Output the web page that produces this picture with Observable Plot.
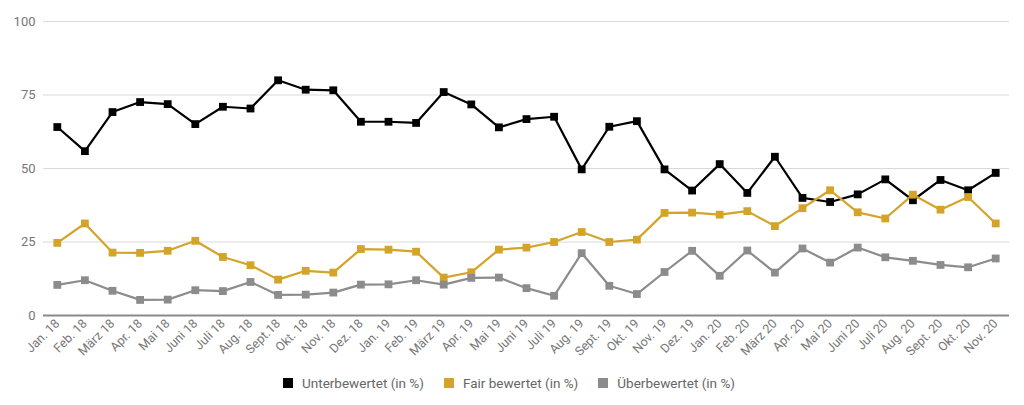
<!DOCTYPE html>
<html>
<head>
<meta charset="utf-8">
<script src="https://cdn.jsdelivr.net/npm/d3@7"></script>
<script src="https://cdn.jsdelivr.net/npm/@observablehq/plot@0.6"></script>
<style>
  html, body { margin: 0; padding: 0; background: #fff; }
  body { width: 1024px; height: 405px; overflow: hidden; font-family: Roboto, "Noto Sans", sans-serif; }
  #legend { display: flex; justify-content: flex-start; align-items: center; height: 28px; margin-top: 1px; padding-left: 283px; font-size: 13.5px; color: #666; }
  .item { display: flex; align-items: center; margin-right: 20px; }
  .sw { width: 10px; height: 10px; margin-right: 9px; }
</style>
</head>
<body>
<div id="chart"></div>
<div id="legend"></div>
<script>
const months = ["Jan. 18","Feb. 18","März 18","Apr. 18","Mai 18","Juni 18","Juli 18","Aug. 18","Sept.18","Okt. 18","Nov. 18","Dez. 18",
  "Jan. 19","Feb. 19","März 19","Apr. 19","Mai 19","Juni 19","Juli 19","Aug. 19","Sept. 19","Okt. 19","Nov. 19","Dez. 19",
  "Jan. 20","Feb. 20","März 20","Apr. 20","Mai 20","Juni 20","Juli 20","Aug. 20","Sept. 20","Okt. 20","Nov. 20"];
const unterbewertet = [64.1,55.9,69.2,72.6,71.9,65.1,71.0,70.4,80.0,76.8,76.6,65.9,
  65.9,65.5,76.0,71.8,64.0,66.8,67.6,49.7,64.2,66.1,49.7,42.5,
  51.5,41.7,54.0,40.0,38.6,41.2,46.3,39.2,46.1,42.6,48.5];
const fair = [24.7,31.3,21.4,21.3,22.0,25.4,19.9,17.1,12.2,15.2,14.6,22.6,
  22.4,21.7,12.9,14.7,22.4,23.1,25.0,28.4,25.0,25.8,34.9,35.0,
  34.3,35.5,30.4,36.5,42.6,35.1,33.0,41.1,36.0,40.3,31.3];
const ueberbewertet = [10.4,12.0,8.4,5.3,5.4,8.6,8.3,11.4,7.0,7.1,7.8,10.5,
  10.6,12.0,10.5,12.8,12.9,9.3,6.7,21.2,10.1,7.3,14.8,22.0,
  13.5,22.1,14.6,22.8,18.0,23.1,19.8,18.6,17.2,16.4,19.4];
const seriesNames = ["Unterbewertet (in %)","Fair bewertet (in %)","Überbewertet (in %)"];
const seriesColors = ["#000000","#d4a42a","#8c8c8c"];
const yTicks = [0,25,50,75,100];

const seriesValues = [unterbewertet, fair, ueberbewertet];
const data = [];
seriesValues.forEach((vals, s) => vals.forEach((v, i) => data.push({month: months[i], value: v, series: seriesNames[s]})));

const chart = Plot.plot({
  width: 1024,
  height: 368,
  marginTop: 21,
  marginBottom: 53,
  marginLeft: 43,
  marginRight: 15,
  style: {fontFamily: "Roboto, 'Noto Sans', sans-serif", fontSize: "12px", color: "#666", background: "#fff"},
  x: {type: "point", domain: months, padding: 0.5, round: false, label: null},
  y: {domain: [0, 100], ticks: yTicks, label: null},
  color: {domain: seriesNames, range: seriesColors},
  marks: [
    Plot.gridY(yTicks.filter(d => d > 0), {stroke: "#d9d9d9", strokeOpacity: 1, strokeWidth: 1}),
    Plot.ruleY([0], {stroke: "#8a8a8a", strokeWidth: 2}),
    Plot.axisY({ticks: yTicks, tickSize: 0, tickPadding: 8, fill: "#777", fontSize: 13, label: null}),
    Plot.axisX({tickSize: 0, tickRotate: -45, tickPadding: 6, fill: "#777", fontSize: 12.5, label: null}),
    Plot.line(data, {x: "month", y: "value", z: "series", stroke: "series", strokeWidth: 2.2}),
    Plot.dot(data, {x: "month", y: "value", fill: "series", symbol: "square", r: 4.4, stroke: "none"})
  ]
});
document.getElementById("chart").appendChild(chart);

const legend = document.getElementById("legend");
seriesNames.forEach((n, i) => {
  const it = document.createElement("div");
  it.className = "item";
  const sw = document.createElement("div");
  sw.className = "sw";
  sw.style.background = seriesColors[i];
  const t = document.createElement("span");
  t.textContent = n;
  it.appendChild(sw); it.appendChild(t);
  legend.appendChild(it);
});
</script>
</body>
</html>
